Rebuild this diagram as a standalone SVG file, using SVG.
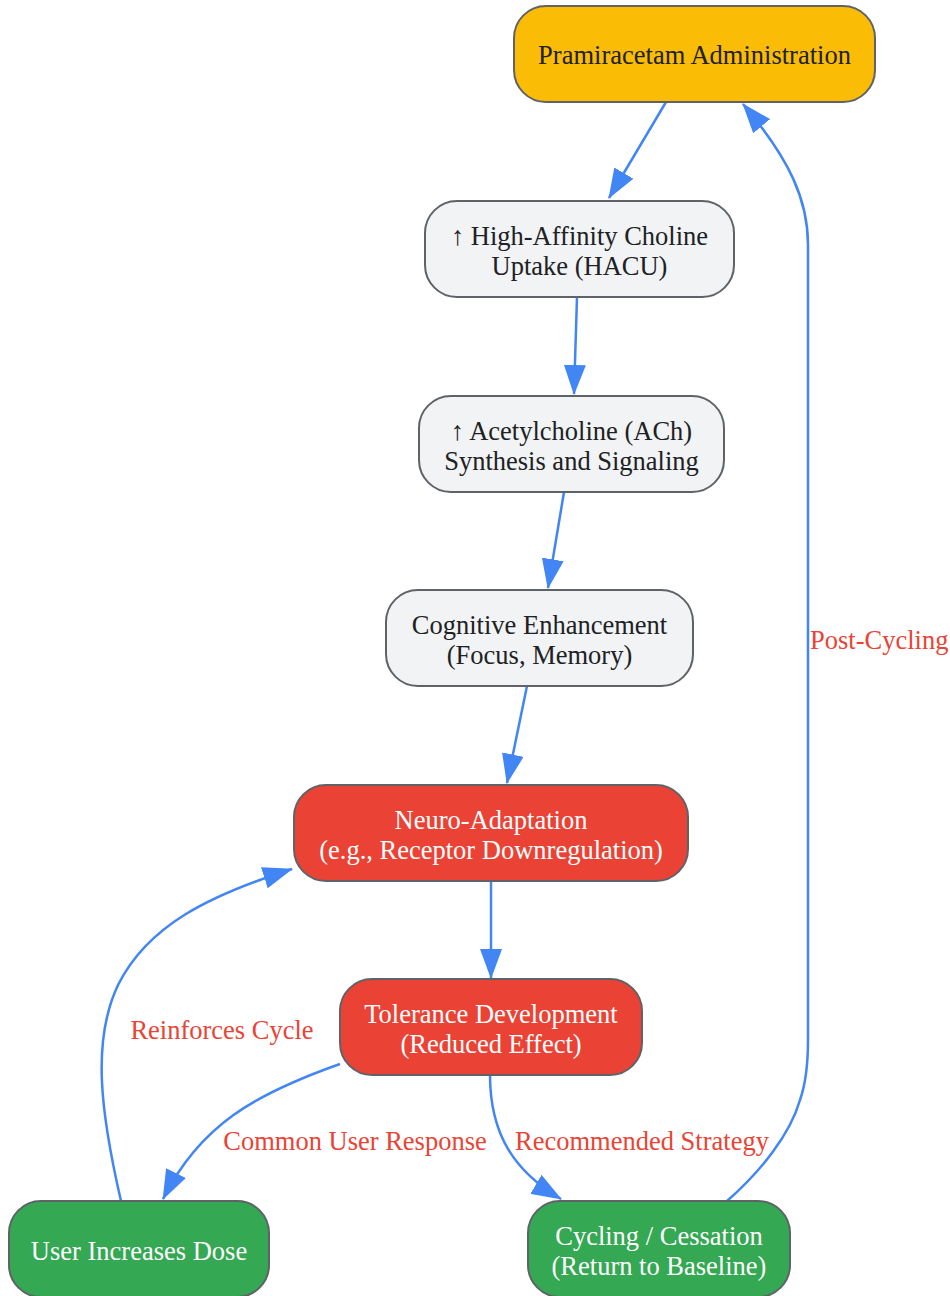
<svg xmlns="http://www.w3.org/2000/svg" width="950" height="1296" viewBox="0 0 950 1296">
<defs>
<style>
.node rect{stroke:#5f6368;stroke-width:2;}
.grey rect{fill:#f1f3f4;}
.yellow rect{fill:#fbbc05;}
.red rect{fill:#ea4335;}
.green rect{fill:#34a853;}
.node text{font-family:"Liberation Serif","Times New Roman",serif;font-size:26.5px;text-anchor:middle;dominant-baseline:central;fill:#202124;}
.red text,.green text{fill:#ffffff;}
.edge{fill:none;stroke:#4285f4;stroke-width:2.5;marker-end:url(#arrow);}
.lbl{font-family:"Liberation Serif","Times New Roman",serif;font-size:26.5px;fill:#ea4335;text-anchor:middle;dominant-baseline:central;}
</style>
<marker id="arrow" markerUnits="userSpaceOnUse" viewBox="0 0 30 22" refX="29" refY="11" markerWidth="30" markerHeight="22" orient="auto">
<path d="M0,0 L30,11 L0,22 z" fill="#4285f4"/>
</marker>
</defs>
<g id="connectors">
<path class="edge" d="M666,102 L609,198"/>
<path class="edge" d="M577,297 L574,394"/>
<path class="edge" d="M564,492 L548,588"/>
<path class="edge" d="M527,686 L507,783"/>
<path class="edge" d="M491,881 L491,978"/>
<path class="edge" d="M340,1064 C255,1094 200,1125 163,1199"/>
<path class="edge" d="M490,1075 C490,1135 515,1172 561,1199"/>
<path class="edge" d="M121,1201 C100,1110 92,1040 118,985 C148,925 210,895 292,869"/>
<path class="edge" d="M727,1201 C760,1172 790,1135 800,1100 C807,1080 808,1060 808,1040 L808,245 C808,200 790,160 743,104"/>
<text class="lbl" x="222" y="1030">Reinforces Cycle</text>
<text class="lbl" x="355" y="1141">Common User Response</text>
<text class="lbl" x="642" y="1141">Recommended Strategy</text>
<text class="lbl" x="810" y="640" style="text-anchor:start">Post-Cycling</text>
</g>
<g id="pram" class="node yellow"><rect x="514" y="6" width="361" height="96" rx="32"/><text x="694.5" y="55">Pramiracetam Administration</text></g>
<g id="hacu" class="node grey"><rect x="425" y="201" width="309" height="96" rx="32"/><text x="579.5" y="236">↑ High-Affinity Choline</text><text x="579.5" y="266">Uptake (HACU)</text></g>
<g id="ach" class="node grey"><rect x="419" y="396" width="305" height="96" rx="32"/><text x="571.5" y="431">↑ Acetylcholine (ACh)</text><text x="571.5" y="461">Synthesis and Signaling</text></g>
<g id="cog" class="node grey"><rect x="386" y="590" width="307" height="96" rx="32"/><text x="539.5" y="625">Cognitive Enhancement</text><text x="539.5" y="655">(Focus, Memory)</text></g>
<g id="neuro" class="node red"><rect x="294" y="785" width="394" height="96" rx="32"/><text x="491" y="820">Neuro-Adaptation</text><text x="491" y="850">(e.g., Receptor Downregulation)</text></g>
<g id="tol" class="node red"><rect x="340" y="979" width="302" height="96" rx="32"/><text x="491" y="1014">Tolerance Development</text><text x="491" y="1044">(Reduced Effect)</text></g>
<g id="dose" class="node green"><rect x="9" y="1201" width="260" height="96" rx="32"/><text x="139" y="1251">User Increases Dose</text></g>
<g id="cycling" class="node green"><rect x="528" y="1201" width="262" height="96" rx="32"/><text x="659" y="1236">Cycling / Cessation</text><text x="659" y="1266">(Return to Baseline)</text></g>
</svg>
